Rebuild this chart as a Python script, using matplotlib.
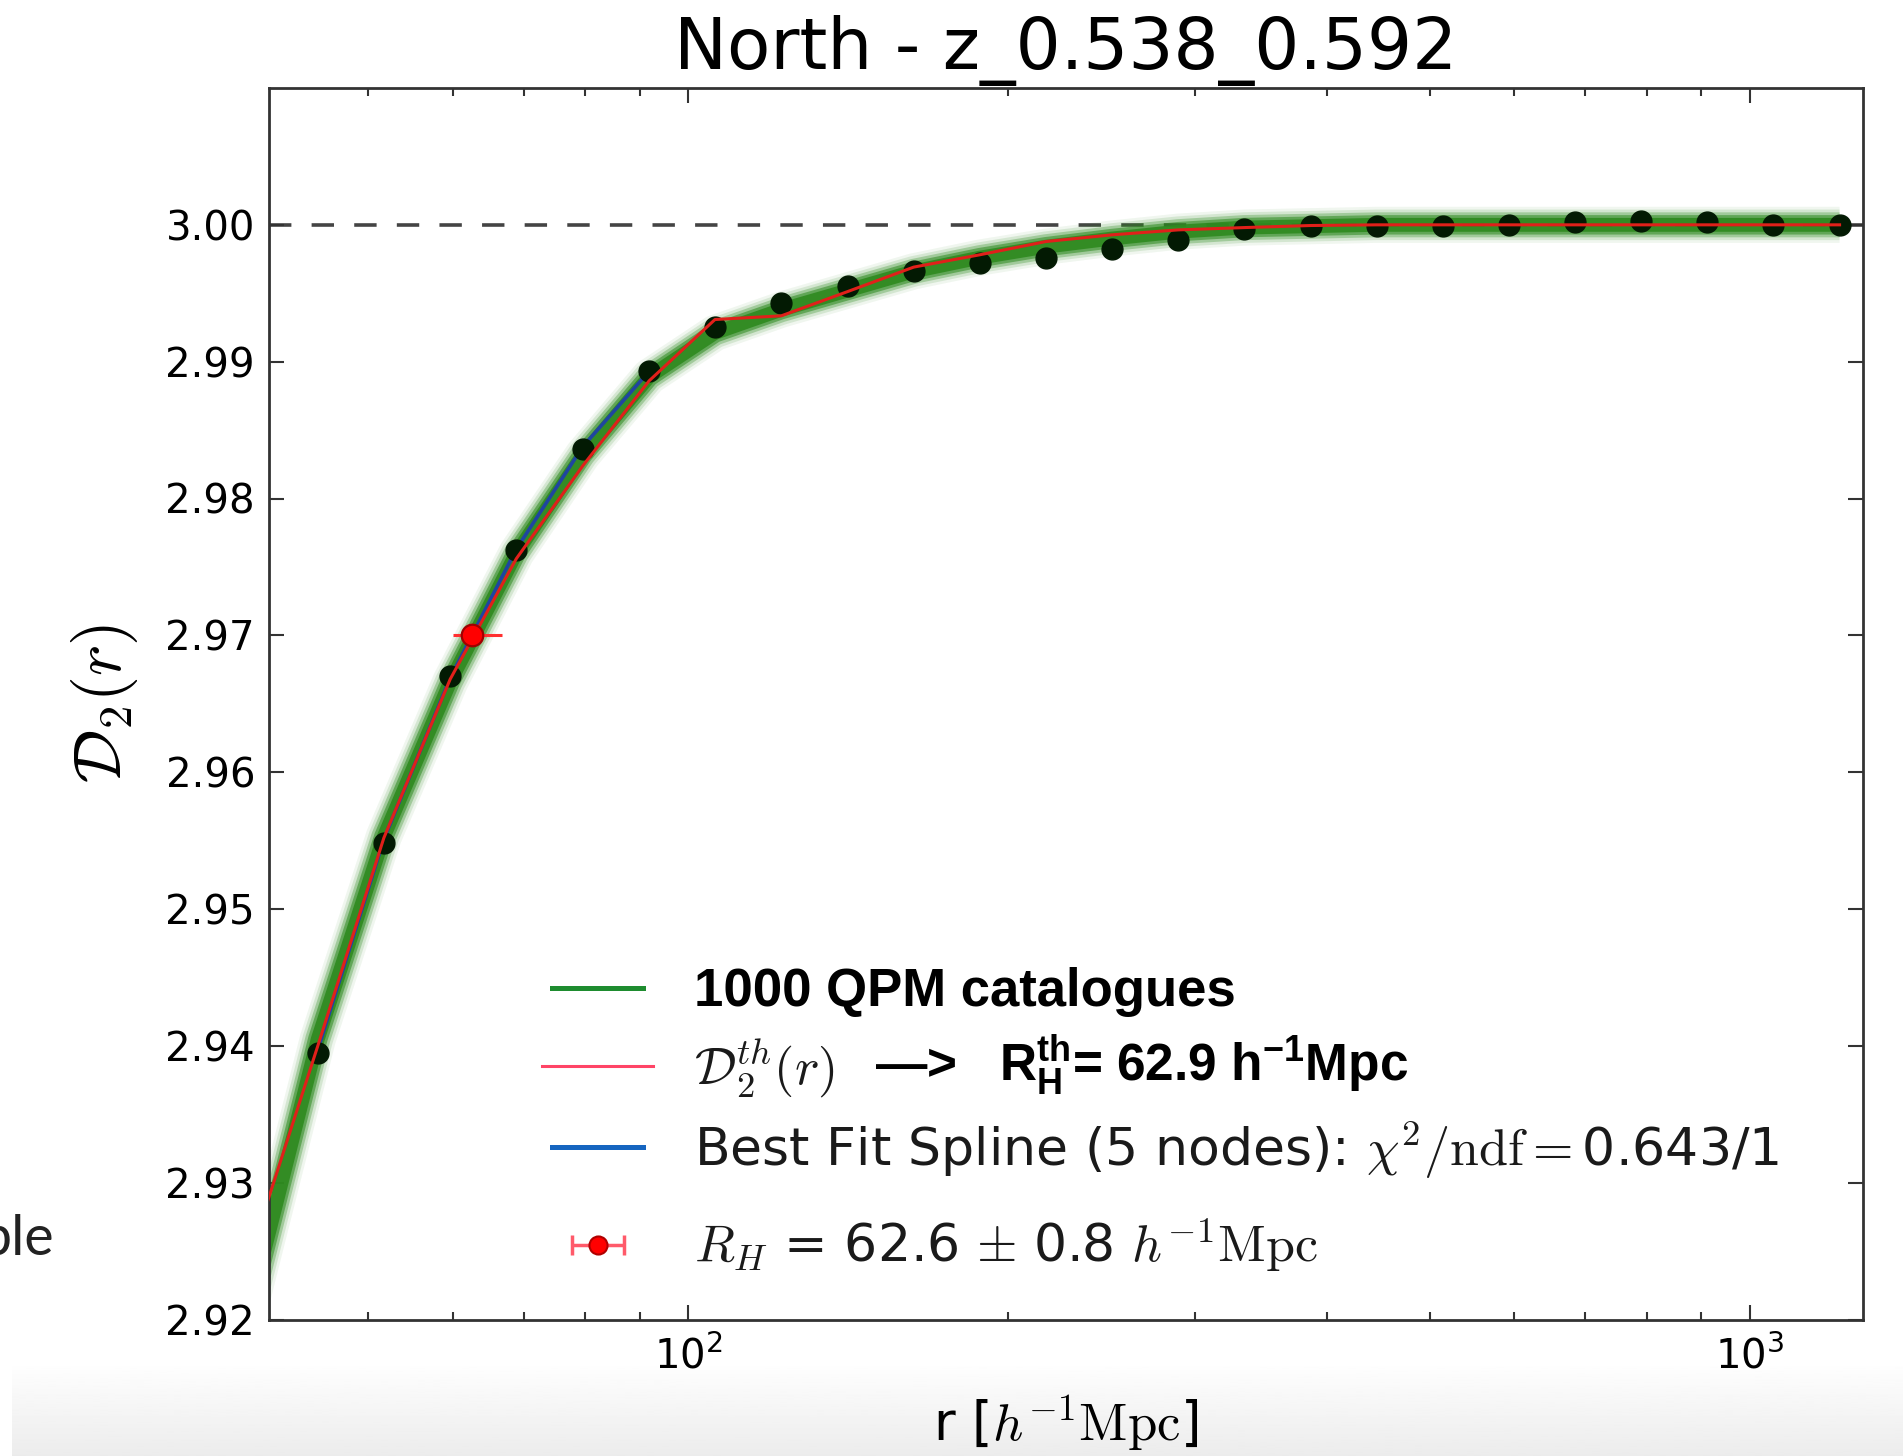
import numpy as np
import matplotlib
matplotlib.use('Agg')
import matplotlib.pyplot as plt
from matplotlib.lines import Line2D
from matplotlib.collections import LineCollection
from matplotlib.container import ErrorbarContainer
from matplotlib.ticker import FormatStrFormatter, NullFormatter, LogLocator

plt.rcParams['font.family'] = ['DejaVu Sans']
plt.rcParams['mathtext.fontset'] = 'cm'
# only used by texts that ask for math_fontfamily='custom'
plt.rcParams['mathtext.rm'] = 'Liberation Sans:bold'
plt.rcParams['mathtext.bf'] = 'Liberation Sans:bold'
plt.rcParams['mathtext.it'] = 'Liberation Sans:bold'

# separation bins r [h^-1 Mpc] (first one is left of the axis limit)
r_bins = [38.8, 44.8, 51.7, 59.7, 68.9, 79.6, 91.9, 106.0, 122.4, 141.3, 163.1,
          188.2, 217.3, 250.8, 289.4, 334.1, 385.7, 445.1, 513.8, 593.0, 684.4,
          790.0, 911.8, 1052.4, 1214.7]

# measured D2(r), one value per bin from 44.8 on
d2_data = [2.9395, 2.9548, 2.9670, 2.9762, 2.9836, 2.9893, 2.9925, 2.9943,
           2.9955, 2.9966, 2.9972, 2.9976, 2.9982, 2.9989, 2.9997, 2.9999,
           2.9999, 2.9999, 3.0000, 3.0002, 3.0003, 3.0002, 3.0000, 3.0000]

# mean of the 1000 QPM mocks
d2_mocks = [2.9213, 2.9405, 2.9553, 2.9666, 2.9760, 2.9832, 2.9889, 2.9921,
            2.9938, 2.9952, 2.9966, 2.9976, 2.9984, 2.9990, 2.9995, 2.9998,
            2.9999, 3.0000, 3.0000, 3.0000, 3.0000, 3.0000, 3.0000, 3.0000, 3.0000]

# theory curve D2^th(r)
d2_theory = [2.9250, 2.9400, 2.9552, 2.9668, 2.9756, 2.9824, 2.9886, 2.99308,
             2.99335, 2.99512, 2.99691, 2.99781, 2.99878, 2.99927, 2.99963,
             2.9998, 2.99995, 3.0000, 3.0000, 3.0000, 3.0000, 3.0000, 3.0000,
             3.0000, 3.0000]

# best fit spline (5 nodes), fit range only
spline_r = [44.8, 51.7, 59.7, 68.9, 79.6, 91.9]
spline_d2 = [2.9397, 2.9551, 2.9669, 2.9763, 2.9838, 2.9893]

# homogeneity scale
rh_value = 62.6
rh_level = 2.97
rh_err_lo = 2.5
rh_err_hi = 4.2

y_ticks = [2.92, 2.93, 2.94, 2.95, 2.96, 2.97, 2.98, 2.99, 3.00]
x_ticks = [100, 1000]
x_tick_labels = [r'$10^{2}$', r'$10^{3}$']

W, H = 1903, 1456
fig = plt.figure(figsize=(W / 100, H / 100), dpi=100)


def fpos(x, y):
    return (x / W, 1 - y / H)


# light gray band at the bottom of the slide
bg = fig.add_axes([12 / W, 0, 1 - 12 / W, 90 / H], zorder=-1)
bg.imshow(np.linspace(0.995, 0.925, 60)[:, None], cmap='gray', vmin=0, vmax=1,
          aspect='auto')
bg.axis('off')

ax = fig.add_axes([269 / W, 1 - 1319.5 / H, (1863 - 269) / W, (1319.5 - 88) / H])

# 1000 QPM catalogues drawn as a blurred green band
for lw, a in [(26, 0.07), (22, 0.14), (18, 0.3), (14, 0.55), (10, 0.9)]:
    ax.plot(r_bins, d2_mocks, color='#2e8a1f', lw=lw, alpha=a,
            solid_capstyle='butt', zorder=2)

ax.axhline(3.0, color='#444444', lw=2.6, dashes=(6.2, 5.6), zorder=1)
ax.plot(spline_r, spline_d2, color='#1f45a0', lw=2.6, zorder=3)
ax.plot(r_bins[1:], d2_data, 'o', color='#031a03', ms=15, zorder=4)
ax.plot(r_bins, d2_theory, color='#e0201a', lw=2.2, zorder=5)
ax.errorbar([rh_value], [rh_level], xerr=[[rh_err_lo], [rh_err_hi]], fmt='o',
            ms=15.5, mfc='#ff0000', mec='#a00000', mew=1.6, ecolor='#ff3030',
            elinewidth=2.2, capsize=0, zorder=6)

ax.set_xscale('log')
ax.set_xlim(40.3, 1278)
ax.set_ylim(2.92, 3.01)
ax.set_yticks(y_ticks)
ax.yaxis.set_major_formatter(FormatStrFormatter('%.2f'))
ax.set_xticks(x_ticks)
ax.set_xticklabels(x_tick_labels, math_fontfamily='dejavusans')
ax.xaxis.set_minor_locator(LogLocator(base=10, subs=np.arange(2, 10)))
ax.xaxis.set_minor_formatter(NullFormatter())
ax.tick_params(which='both', direction='in', top=True, right=True,
               width=1.5, color='#333333', labelsize=29)
ax.tick_params(which='major', length=10.8)
ax.tick_params(which='minor', length=5.8)
ax.tick_params(axis='y', pad=10)
ax.tick_params(axis='x', pad=12)
for sp in ax.spines.values():
    sp.set_linewidth(2)
    sp.set_color('#333333')

ax.set_title('North - z_0.538_0.592', fontsize=51, pad=14)
ax.set_ylabel(r'$\mathcal{D}_2(r)$', fontsize=48, labelpad=18)
ax.set_xlabel(r'r [$h^{-1}\mathrm{Mpc}$]', fontsize=38, labelpad=11)

# legend, one row per legend so rows sit where they do in the slide
green_h = Line2D([], [], color='#1e8c2f', lw=3.6)
red_h = Line2D([], [], color='#ff4466', lw=2.2)
blue_h = Line2D([], [], color='#1565c0', lw=3.6)
rh_marker = Line2D([], [], marker='o', ls='none', ms=13, mfc='#ff0000',
                   mec='#b00000', mew=1.5)
rh_caps = Line2D([], [], marker='|', ls='none', ms=14, color='#ff5a6a', mew=2.5)
rh_bars = LineCollection([], colors='#ff5a6a', linewidths=2.5)
rh_h = ErrorbarContainer((rh_marker, (rh_caps,), (rh_bars,)),
                         has_xerr=True, has_yerr=False)

rows = [
    (green_h, '1000 QPM catalogues', 552, 992, 1.72, 0.97,
     dict(family='Liberation Sans', weight='bold', size=38)),
    (red_h, r'$\mathcal{D}_2^{th}(r)$', 542, 1069, 2.13, 0.79,
     dict(size=37.5)),
    (blue_h, r'Best Fit Spline (5 nodes): $\chi^2/\mathrm{ndf}=$0.643/1', 552,
     1150, 1.75, 0.98, dict(size=37.5)),
    (rh_h, r'$R_H$ = 62.6 $\pm$ 0.8 $h^{-1}\mathrm{Mpc}$', 552, 1246, 1.75,
     0.98, dict(size=37.5)),
]
for handle, label, hx, hy, hl, tp, prop in rows:
    leg = fig.legend(handles=[handle], labels=[label], loc='center left',
                     bbox_to_anchor=fpos(hx, hy), frameon=False, borderpad=0,
                     borderaxespad=0, handlelength=hl, handletextpad=tp,
                     numpoints=1, prop=prop)
    for t in leg.get_texts():
        if prop.get('weight') != 'bold':
            t.set_color('#1a1a1a')

# bold annotation pasted next to the theory entry
fig.text(*fpos(875, 1081), r'—>   $\mathbf{R_{H}^{th}}$= 62.9 h$^{\mathbf{-1}}$Mpc',
         fontsize=37, fontweight='bold', family='Liberation Sans',
         math_fontfamily='custom', va='baseline', ha='left')

# bits of the surrounding slide
fig.text(*fpos(54, 1255), 'ble', fontsize=40, family='Lato', color='#222222',
         ha='right', va='baseline')

fig.savefig('out.png', dpi=100)
